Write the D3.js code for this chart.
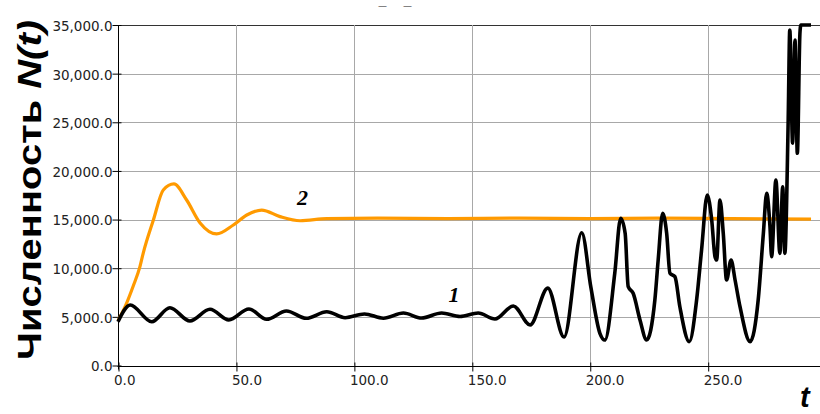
<!DOCTYPE html>
<html><head><meta charset="utf-8">
<script src="https://cdn.jsdelivr.net/npm/d3@7"></script>
<style>html,body{margin:0;padding:0;background:#fff;}svg{display:block;}</style>
</head><body>
<script>
// Series 1 (black)
const t1 = [0, 5.2, 14.3, 22, 30.5, 39, 47, 55.5, 63, 71.4, 79.8, 88.5, 96.3, 104.5, 112.5, 121, 128.7, 137.2, 145, 152.7, 159.8, 167.6, 174.7, 182.2, 189.1, 196.6, 200.5, 204.3, 206.4, 210.6, 213.1, 215, 216.3, 218.4, 221.3, 224.1, 227.6, 229, 230.9, 232.6, 234, 236.1, 238.2, 242.2, 245.3, 247.4, 249.8, 251.7, 253.1, 253.8, 255.2, 256.6, 258, 259.9, 261.6, 263.7, 268, 271.4, 273.6, 275, 276.4, 277.1, 278.9, 280.6, 281.8, 282.7, 284.1, 284.8, 286, 287, 288, 289.1, 289.5, 293.8];
const n1 = [4500, 6220, 4500, 5940, 4570, 5780, 4680, 5810, 4750, 5600, 4850, 5530, 4910, 5300, 4860, 5390, 4880, 5390, 5040, 5390, 4780, 6120, 4170, 7950, 2930, 13650, 8000, 3310, 2620, 9480, 15130, 13590, 8100, 7420, 4680, 2620, 6730, 10840, 15640, 13590, 9480, 9130, 6040, 2450, 6730, 11870, 17530, 14960, 11180, 10840, 17010, 13590, 8790, 10840, 8790, 6040, 2450, 6730, 13590, 17700, 14270, 11180, 19070, 11530, 18380, 11530, 24900, 34490, 22840, 33460, 21810, 34150, 35000, 35000];
// Series 2 (orange)
const t2 = [0, 3, 6.5, 9.3, 10.7, 15, 19.2, 23.7, 29.1, 34.8, 41.8, 48.9, 54.6, 60.9, 68.7, 77.2, 88.5, 110, 140, 170, 200, 230, 260, 293.8];
const n2 = [4600, 6040, 8200, 10160, 11560, 14960, 18040, 18660, 17010, 14650, 13520, 14440, 15470, 15980, 15300, 14880, 15090, 15150, 15100, 15150, 15100, 15150, 15100, 15050];
const xTicks = [0, 50, 100, 150, 200, 250];
const yTicks = [0, 5000, 10000, 15000, 20000, 25000, 30000, 35000];
const curveLabels = [{t: 142.4, v: 6530, s: "1"}, {t: 78.2, v: 16500, s: "2"}];

const W = 820, H = 414;
const svg = d3.select("body").append("svg").attr("width", W).attr("height", H);
const x = d3.scaleLinear().domain([0, 250]).range([118, 707.7]);
const y = d3.scaleLinear().domain([0, 35000]).range([365.5, 25]);
const fmt = d => d3.format(",.1f")(d);

// grid
svg.append("g").selectAll("line").data(yTicks.filter(d => d > 0)).join("line")
  .attr("x1", 118).attr("x2", W).attr("y1", d => Math.round(y(d)) + 0.5).attr("y2", d => Math.round(y(d)) + 0.5)
  .attr("stroke", d => d === 35000 ? "#333" : "#a8a8a8").attr("stroke-width", 1);
svg.append("g").selectAll("line").data(xTicks.filter(d => d > 0)).join("line")
  .attr("x1", d => Math.round(x(d)) + 0.5).attr("x2", d => Math.round(x(d)) + 0.5)
  .attr("y1", y(35000)).attr("y2", y(0)).attr("stroke", "#a8a8a8").attr("stroke-width", 1);

// axes
const xAxis = d3.axisBottom(x).tickValues(xTicks).tickFormat(fmt).tickSize(5).tickSizeOuter(0);
const gx = svg.append("g").attr("transform", `translate(0.5,${Math.round(y(0)) + 0.5})`).call(xAxis);
gx.select(".domain").remove();
gx.append("line").attr("x1", 117).attr("x2", W).attr("stroke", "#000");
gx.selectAll(".tick line").attr("y1", -4).attr("y2", 5).attr("stroke", "#000");
gx.selectAll(".tick text").attr("text-anchor", "start").attr("x", -5).attr("y", 9)
  .attr("font-family", "DejaVu Sans").attr("font-size", "13.5px").attr("fill", "#222");

const yAxis = d3.axisLeft(y).tickValues(yTicks).tickFormat(fmt).tickSize(6).tickSizeOuter(0);
const gy = svg.append("g").attr("transform", `translate(118.5,0)`).call(yAxis);
gy.select(".domain").remove();
gy.append("line").attr("y1", y(35000)).attr("y2", y(0) + 4).attr("stroke", "#000");
gy.selectAll(".tick line").attr("x1", -6).attr("x2", 3).attr("stroke", "#000");
gy.selectAll(".tick text").attr("x", -6).attr("dy", "0.4em")
  .attr("font-family", "DejaVu Sans").attr("font-size", "13.5px").attr("fill", "#222");

// lines
const line = d3.line().curve(d3.curveMonotoneX);
svg.append("path").attr("d", line(t2.map((t, i) => [x(t), y(n2[i])])))
  .attr("fill", "none").attr("stroke", "#ff9a00").attr("stroke-width", 3.2).attr("stroke-linejoin", "round");
svg.append("path").attr("d", line(t1.map((t, i) => [x(t), y(n1[i])])))
  .attr("fill", "none").attr("stroke", "#000").attr("stroke-width", 3.6).attr("stroke-linejoin", "round");

// curve labels
svg.selectAll(".cl").data(curveLabels).join("text")
  .attr("x", d => x(d.t)).attr("y", d => y(d.v))
  .attr("font-family", "Liberation Serif").attr("font-weight", "bold").attr("font-style", "italic")
  .attr("font-size", "22px").attr("text-anchor", "middle").text(d => d.s);

// axis titles
const yt = svg.append("text").attr("transform", "translate(41,190) rotate(-90)")
  .attr("text-anchor", "middle").attr("font-family", "Liberation Sans").attr("font-weight", "bold")
  .attr("font-size", "34px").attr("textLength", 340).attr("lengthAdjust", "spacingAndGlyphs");
yt.append("tspan").text("Численность ");
yt.append("tspan").attr("font-style", "italic").text("N(t)");

svg.append("text").attr("x", 800).attr("y", 407).attr("font-family", "Liberation Sans")
  .attr("font-weight", "bold").attr("font-style", "italic").attr("font-size", "29px").text("t");

// top marks
svg.selectAll(".tm").data(["—", "—"]).join("text").attr("x", (d, i) => 378 + i * 25).attr("y", 8.5)
  .attr("font-family", "DejaVu Sans").attr("font-size", "9px").attr("fill", "#222").text(d => d);
</script>
</body></html>
